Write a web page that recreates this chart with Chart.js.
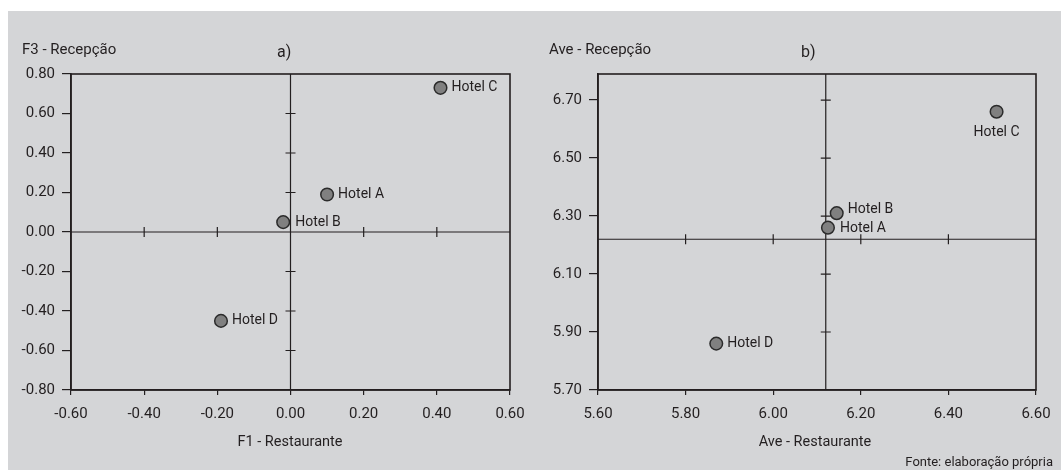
<!DOCTYPE html>
<html lang="pt">
<head>
<meta charset="utf-8">
<title>Mapas de posicionamento</title>
<script src="https://cdn.jsdelivr.net/npm/chart.js@4.4.1/dist/chart.umd.min.js"></script>
<style>
html, body { margin: 0; padding: 0; background: #fff; }
body { width: 1061px; height: 470px; position: relative; overflow: hidden;
       font-family: Roboto, "Open Sans", sans-serif; color: #231f20; }
#bg { position: absolute; left: 8px; top: 11px; width: 1053px; height: 459px; background: #d4d5d7; }
canvas { position: absolute; top: 0; }
.txt { position: absolute; white-space: nowrap; line-height: 20px; }
</style>
</head>
<body>
<div id="bg"></div>
<canvas id="chartA" width="530" height="470" style="left:0"></canvas>
<canvas id="chartB" width="531" height="470" style="left:530px"></canvas>

<div class="txt" style="left:22px;top:39px;font-size:15px">F3 - Recepção</div>
<div class="txt" style="left:277px;top:42px;font-size:16px">a)</div>
<div class="txt" style="left:290px;top:432px;font-size:14.5px;transform:translateX(-50%)">F1 - Restaurante</div>

<div class="txt" style="left:549px;top:39px;font-size:15px">Ave - Recepção</div>
<div class="txt" style="left:801px;top:42px;font-size:16px">b)</div>
<div class="txt" style="left:815px;top:432px;font-size:14.5px;transform:translateX(-50%)">Ave - Restaurante</div>

<div class="txt" style="right:8px;top:452px;font-size:13px">Fonte: elaboração própria</div>

<script>
// dados
const hotels = ['Hotel A', 'Hotel B', 'Hotel C', 'Hotel D'];

// a) fatores
const f1Restaurante = [0.10, -0.02, 0.41, -0.19];
const f3Recepcao = [0.19, 0.05, 0.73, -0.45];
const ticksF1 = [-0.6, -0.4, -0.2, 0, 0.2, 0.4, 0.6];
const ticksF3 = [-0.8, -0.6, -0.4, -0.2, 0, 0.2, 0.4, 0.6, 0.8];
const crossF = [0, 0];

// b) médias
const aveRestaurante = [6.125, 6.145, 6.51, 5.87];
const aveRecepcao = [6.26, 6.31, 6.66, 5.86];
const ticksAveRest = [5.6, 5.8, 6.0, 6.2, 6.4, 6.6];
const ticksAveRec = [5.7, 5.9, 6.1, 6.3, 6.5, 6.7];
const crossAve = [6.12, 6.22];

const INK = '#231f20';
const FONT = 'Roboto, "Open Sans", sans-serif';

// moldura + linhas dos quadrantes com pequenos traços
const quadrantLines = {
    id: 'quadrantLines',
    beforeDatasetsDraw(chart, args, opts) {
        const { ctx, chartArea: a, scales: { x, y } } = chart;
        const cx = x.getPixelForValue(opts.cross[0]);
        const cy = y.getPixelForValue(opts.cross[1]);
        ctx.save();
        ctx.strokeStyle = INK;
        ctx.lineWidth = 1.2;
        ctx.beginPath();
        ctx.moveTo(cx, a.top); ctx.lineTo(cx, a.bottom);
        ctx.moveTo(a.left, cy); ctx.lineTo(a.right, cy);
        x.ticks.forEach(t => {
            if (t.value <= x.min || t.value >= x.max) return;
            const px = x.getPixelForValue(t.value);
            ctx.moveTo(px, cy - 5); ctx.lineTo(px, cy + 5);
        });
        y.ticks.forEach(t => {
            if (t.value <= y.min || t.value >= y.max) return;
            const py = y.getPixelForValue(t.value);
            ctx.moveTo(cx - 5, py); ctx.lineTo(cx + 5, py);
        });
        ctx.stroke();
        ctx.lineWidth = 1.6;
        ctx.strokeRect(a.left, a.top, a.right - a.left, a.bottom - a.top);
        ctx.restore();
    }
};

// rótulos dos hotéis ao lado dos pontos
const hotelLabels = {
    id: 'hotelLabels',
    afterDatasetsDraw(chart, args, opts) {
        const ctx = chart.ctx;
        const meta = chart.getDatasetMeta(0);
        ctx.save();
        ctx.font = '14px ' + FONT;
        ctx.fillStyle = INK;
        ctx.textBaseline = 'middle';
        meta.data.forEach((pt, i) => {
            const off = opts.offsets[i];
            ctx.textAlign = off.align;
            ctx.fillText(hotels[i], pt.x + off.dx, pt.y + off.dy);
        });
        ctx.restore();
    }
};

function fixTicks(list) {
    return axis => { axis.ticks = list.map(v => ({ value: v })); };
}

function noOverflow(width, height) {
    return scale => {
        if (width) scale.width = width;
        if (height) scale.height = height;
        scale.paddingLeft = scale.paddingRight = 0;
        scale.paddingTop = scale.paddingBottom = 0;
    };
}

function makeChart(id, xs, ys, cfg) {
    return new Chart(document.getElementById(id), {
        type: 'scatter',
        data: {
            datasets: [{
                data: xs.map((v, i) => ({ x: v, y: ys[i] })),
                backgroundColor: '#808080',
                borderColor: '#2b2b2b',
                borderWidth: 1.5,
                pointRadius: 6.3,
                pointHoverRadius: 6.3
            }]
        },
        options: {
            responsive: false,
            animation: false,
            events: [],
            layout: { padding: { left: 0, top: 74, right: cfg.padRight, bottom: 30 } },
            plugins: {
                legend: { display: false },
                tooltip: { enabled: false },
                quadrantLines: { cross: cfg.cross },
                hotelLabels: { offsets: cfg.offsets }
            },
            scales: {
                x: {
                    type: 'linear',
                    min: cfg.xMin, max: cfg.xMax,
                    afterBuildTicks: fixTicks(cfg.xTicks),
                    afterFit: noOverflow(null, 50),
                    grid: { drawOnChartArea: false, drawTicks: true, tickLength: 5, color: INK, lineWidth: 1.2 },
                    border: { display: true, color: INK, width: 1.6 },
                    ticks: { padding: 10, color: INK, font: { size: 15 }, maxRotation: 0,
                             callback: v => Number(v).toFixed(2) }
                },
                y: {
                    type: 'linear',
                    min: cfg.yMin, max: cfg.yMax,
                    afterBuildTicks: fixTicks(cfg.yTicks),
                    afterFit: noOverflow(cfg.yWidth, null),
                    grid: { drawOnChartArea: false, drawTicks: true, tickLength: 9, color: INK, lineWidth: 1.2 },
                    border: { display: true, color: INK, width: 1.6 },
                    ticks: { padding: 7, color: INK, font: { size: 15 },
                             callback: v => Number(v).toFixed(2) }
                }
            }
        },
        plugins: [quadrantLines, hotelLabels]
    });
}

function draw() {
    Chart.defaults.font.family = FONT;
    Chart.defaults.color = INK;

    makeChart('chartA', f1Restaurante, f3Recepcao, {
        xMin: -0.6, xMax: 0.6, yMin: -0.8, yMax: 0.8,
        xTicks: ticksF1, yTicks: ticksF3,
        cross: crossF, yWidth: 71, padRight: 20,
        offsets: [
            { dx: 11, dy: 0, align: 'left' },
            { dx: 12, dy: 0, align: 'left' },
            { dx: 11, dy: 0, align: 'left' },
            { dx: 11, dy: 0, align: 'left' }
        ]
    });

    makeChart('chartB', aveRestaurante, aveRecepcao, {
        xMin: 5.6, xMax: 6.6, yMin: 5.7, yMax: 6.79,
        xTicks: ticksAveRest, yTicks: ticksAveRec,
        cross: crossAve, yWidth: 68, padRight: 25,
        offsets: [
            { dx: 12, dy: 1, align: 'left' },
            { dx: 11, dy: -4, align: 'left' },
            { dx: 0, dy: 21, align: 'center' },
            { dx: 11, dy: 0, align: 'left' }
        ]
    });
}

document.fonts.load('15px Roboto').then(draw, draw);
</script>
</body>
</html>
